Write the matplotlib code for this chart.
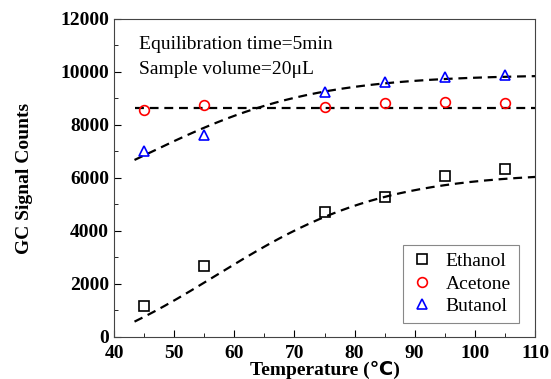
import numpy as np
import matplotlib.pyplot as plt

temp = [45, 55, 75, 85, 95, 105]
ethanol = [1180, 2690, 4705, 5295, 6085, 6325]
acetone = [8570, 8755, 8680, 8830, 8870, 8830]
butanol = [7020, 7625, 9260, 9635, 9800, 9885]

# dashed trend curves (Boltzmann form), parameters
fit_start = 43.4
eth_fit = dict(a1=-1555, a2=6210, x0=57, dx=14)
but_fit = dict(a1=3805, a2=9900, x0=45, dx=14)
ace_fit = 8635


def boltzmann(x, a1, a2, x0, dx):
    return a2 + (a1 - a2) / (1 + np.exp((x - x0) / dx))


plt.rcParams['font.family'] = ['Liberation Serif', 'DejaVu Sans']

fig = plt.figure(figsize=(5.51, 3.79), dpi=100)
ax = fig.add_axes([0.207, 0.111, 0.764, 0.839])

xf = np.linspace(fit_start, 110, 200)
dash = dict(ls=(0, (4, 2.6)), lw=1.6, c='k', zorder=1)
ax.plot(xf, boltzmann(xf, **eth_fit), **dash)
ax.plot(xf, boltzmann(xf, **but_fit), **dash)
ax.plot(xf, np.full_like(xf, ace_fit), **dash)

mk = dict(ls='none', mfc='none', ms=7, mew=1.2, zorder=3)
ax.plot(temp, ethanol, 's', mec='k', label='Ethanol', **mk)
ax.plot(temp, acetone, 'o', mec='r', label='Acetone', **mk)
ax.plot(temp, butanol, '^', mec='b', label='Butanol', **mk)

ax.set_xlim(40, 110)
ax.set_ylim(0, 12000)
ax.set_xticks(np.arange(40, 111, 10))
ax.set_yticks(np.arange(0, 12001, 2000))
ax.set_xticks(np.arange(45, 110, 10), minor=True)
ax.set_yticks(np.arange(1000, 12000, 2000), minor=True)
ax.tick_params(which='both', direction='in', top=False, right=False)
ax.tick_params(which='major', length=5, labelsize=14)
ax.tick_params(axis='x', which='major', pad=6)
ax.tick_params(which='minor', length=3)
for lab in ax.get_xticklabels() + ax.get_yticklabels():
    lab.set_fontweight('bold')
for s in ax.spines.values():
    s.set_color('#444444')

ax.set_xlabel('Temperature (\u2103)', fontsize=14, fontweight='bold', labelpad=-1)
ax.set_ylabel('GC Signal Counts', fontsize=14, fontweight='bold', labelpad=20)

ax.text(0.06, 0.92, 'Equilibration time=5min', transform=ax.transAxes, fontsize=14, va='center')
ax.text(0.06, 0.84, 'Sample volume=20\u03bcL', transform=ax.transAxes, fontsize=14, va='center')

leg = ax.legend(loc='lower right', bbox_to_anchor=(0.961, 0.044), borderaxespad=0,
                fontsize=14, frameon=True, fancybox=False, edgecolor='#888888',
                framealpha=1, handletextpad=0.6, handlelength=1.2, borderpad=0.4,
                labelspacing=0.25)
leg.get_frame().set_linewidth(0.8)

plt.savefig('out.png', dpi=100)
